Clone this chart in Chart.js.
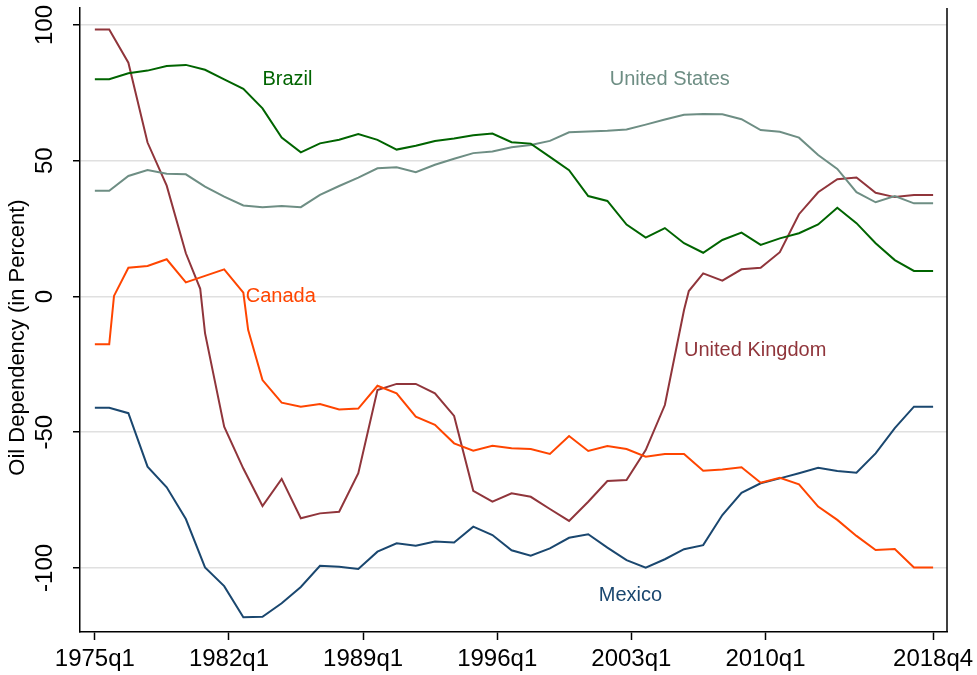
<!DOCTYPE html>
<html>
<head>
<meta charset="utf-8">
<script src="https://cdn.jsdelivr.net/npm/chart.js@4"></script>
<style>
  html, body { margin: 0; padding: 0; background: #fff; }
  #wrap { width: 977px; height: 675px; }
</style>
</head>
<body>
<div id="wrap"><canvas id="chart"></canvas></div>
<script>
// periods (quarters) at which the series have a point
const periods = ['1975q1', '1975q4', '1976q1', '1976q4', '1977q4', '1978q4', '1979q4', '1980q3', '1980q4',
    '1981q4', '1982q4', '1983q1', '1983q4', '1984q4', '1985q4', '1986q4', '1987q4', '1988q4', '1989q4',
    '1990q4', '1991q4', '1992q4', '1993q4', '1994q4', '1995q4', '1996q4', '1997q4', '1998q4', '1999q4',
    '2000q4', '2001q4', '2002q4', '2003q4', '2004q4', '2005q4', '2006q1', '2006q4', '2007q4', '2008q4',
    '2009q4', '2010q4', '2011q4', '2012q4', '2013q4', '2014q4', '2015q4', '2016q4', '2017q4', '2018q4'];

const brazil = [80, 80, null, 82.2, 83.2, 84.9, 85.3, null, 83.5,
    80.0, 76.5, null, 69.3, 58.5, 53.1, 56.4, 57.7, 59.8, 57.7,
    54.1, 55.5, 57.3, 58.2, 59.4, 60.0, 56.8, 56.3, 51.4, 46.5,
    37.0, 35.2, 26.5, 21.7, 25.2, 19.6, null, 16.1, 20.8, 23.5,
    19.0, 21.4, 23.3, 26.5, 32.7, 27.0, 19.6, 13.4, 9.4, 9.4];

const unitedStates = [38.9, 38.9, null, 44.4, 46.6, 45.2, 45.0, null, 40.5,
    36.8, 33.5, null, 32.9, 33.3, 32.9, 37.4, 40.7, 43.8, 47.2,
    47.6, 45.8, 48.5, 50.7, 52.8, 53.4, 55.0, 55.8, 57.3, 60.5,
    60.8, 61.0, 61.5, 63.3, 65.2, 66.9, null, 67.2, 67.1, 65.3,
    61.3, 60.7, 58.5, 52.1, 47.0, 38.4, 34.7, 37.0, 34.3, 34.3];

const unitedKingdom = [98.3, 98.3, null, 86.1, 56.7, 40.8, 15.9, 2.8, -13.5,
    -48.0, -63.4, null, -77.2, -67.2, -81.7, -79.9, -79.3, -65.1, -34.5,
    -32.2, -32.2, -35.7, -44.0, -71.6, -75.6, -72.5, -73.8, -78.3, -82.7,
    -75.6, -68.0, -67.6, -56.6, -40.0, -5.0, 2.0, 8.5, 5.8, 10.0,
    10.6, 16.3, 30.3, 38.4, 43.2, 43.8, 38.2, 36.6, 37.4, 37.4];

const canada = [-17.6, -17.6, 0.2, 10.6, 11.2, 13.7, 5.2, null, 7.6,
    10.0, 1.4, -12.3, -30.8, -39.1, -40.6, -39.6, -41.6, -41.3, -32.9,
    -35.7, -44.3, -47.3, -54.1, -56.8, -55.0, -55.9, -56.2, -58.0, -51.4,
    -56.9, -55.1, -56.2, -59.0, -58.0, -58.0, null, -64.2, -63.7, -62.9,
    -68.6, -66.8, -69.2, -77.4, -82.3, -88.2, -93.4, -93.0, -99.8, -99.8];

const mexico = [-41.0, -41.0, null, -43.0, -62.7, -70.3, -82.0, null, -99.8,
    -106.7, -118.2, null, -118.0, -113.0, -107.0, -99.2, -99.6, -100.4, -94.0,
    -90.9, -91.8, -90.3, -90.6, -84.8, -87.9, -93.5, -95.5, -92.8, -88.9,
    -87.6, -92.5, -97.1, -99.9, -96.8, -93.1, null, -91.6, -80.5, -72.3,
    -68.8, -67.0, -65.1, -63.1, -64.3, -64.9, -57.8, -48.5, -40.6, -40.6];

const xTickLabels = ['1975q1', '1982q1', '1989q1', '1996q1', '2003q1', '2010q1', '2018q4'];
const yTickValues = [-100, -50, 0, 50, 100];
const yTitle = 'Oil Dependency (in Percent)';

// quarter index counted from 1975q1
function qIndex(p) {
    return (parseInt(p.slice(0, 4)) - 1975) * 4 + parseInt(p.slice(5)) - 1;
}

function toPoints(values) {
    return periods.map(function (p, i) { return { x: qIndex(p), y: values[i] }; });
}

const FONT = "'Liberation Sans', Arial, sans-serif";

// series names written inside the plot
const seriesLabels = [
    { text: 'Brazil', x: 35, y: 80, color: '#006400' },
    { text: 'United States', x: 107.5, y: 80, color: '#6e8e84' },
    { text: 'Canada', x: 31.5, y: 0, color: '#ff4500' },
    { text: 'United Kingdom', x: 123, y: -20, color: '#90353b' },
    { text: 'Mexico', x: 105.2, y: -110.3, color: '#1a476f' }
];

const labelPlugin = {
    id: 'seriesLabels',
    afterDatasetsDraw: function (chart) {
        const ctx = chart.ctx;
        const xs = chart.scales.x, ys = chart.scales.y;
        ctx.save();
        ctx.font = '20px ' + FONT;
        ctx.textAlign = 'left';
        ctx.textBaseline = 'middle';
        seriesLabels.forEach(function (l) {
            ctx.fillStyle = l.color;
            ctx.fillText(l.text, xs.getPixelForValue(l.x), ys.getPixelForValue(l.y));
        });
        // right edge of the plot region
        const a = chart.chartArea;
        ctx.strokeStyle = '#000';
        ctx.lineWidth = 1.5;
        ctx.beginPath();
        ctx.moveTo(a.right, a.top);
        ctx.lineTo(a.right, a.bottom);
        ctx.stroke();
        // y axis title, centred on the whole graph height like Stata does
        ctx.translate(18, chart.height / 2);
        ctx.rotate(-Math.PI / 2);
        ctx.textAlign = 'center';
        ctx.fillStyle = '#000';
        ctx.font = '22px ' + FONT;
        ctx.fillText(yTitle, 0, 0);
        ctx.restore();
    }
};

function line(label, values, color) {
    return {
        label: label,
        data: toPoints(values),
        borderColor: color,
        backgroundColor: color,
        borderWidth: 2,
        pointRadius: 0,
        tension: 0,
        spanGaps: true
    };
}

new Chart(document.getElementById('chart'), {
    type: 'line',
    data: {
        datasets: [
            line('Brazil', brazil, '#006400'),
            line('United States', unitedStates, '#6e8e84'),
            line('Canada', canada, '#ff4500'),
            line('United Kingdom', unitedKingdom, '#90353b'),
            line('Mexico', mexico, '#1a476f')
        ]
    },
    options: {
        responsive: true,
        maintainAspectRatio: false,
        animation: false,
        layout: { padding: { top: 8, right: 30, left: 0, bottom: 0 } },
        plugins: {
            legend: { display: false },
            tooltip: { enabled: false }
        },
        scales: {
            x: {
                type: 'linear',
                min: -3.1,
                max: 177.9,
                afterBuildTicks: function (scale) {
                    scale.ticks = xTickLabels.map(function (l) { return { value: qIndex(l) }; });
                },
                afterFit: function (scale) {
                    scale.height = 43;
                    scale.paddingLeft = 0;
                    scale.paddingRight = 0;
                },
                ticks: {
                    autoSkip: false,
                    maxRotation: 0,
                    padding: 5,
                    color: '#000',
                    font: { family: FONT, size: 24 },
                    callback: function (v) {
                        const l = xTickLabels.find(function (t) { return qIndex(t) === v; });
                        return l || '';
                    }
                },
                grid: {
                    drawOnChartArea: false,
                    drawTicks: true,
                    tickLength: 8,
                    tickColor: '#000',
                    tickWidth: 1.5
                },
                border: { color: '#000', width: 1.5 }
            },
            y: {
                min: -123.6,
                max: 106.26,
                afterBuildTicks: function (scale) {
                    scale.ticks = yTickValues.map(function (v) { return { value: v }; });
                },
                afterFit: function (scale) {
                    scale.width = 80;
                    scale.paddingTop = 0;
                    scale.paddingBottom = 0;
                },
                ticks: {
                    minRotation: 90,
                    maxRotation: 90,
                    crossAlign: 'center',
                    padding: 4,
                    color: '#000',
                    font: { family: FONT, size: 24 }
                },
                grid: {
                    color: '#e0e0e0',
                    lineWidth: 1.5,
                    drawTicks: true,
                    tickLength: 7,
                    tickColor: '#000',
                    tickWidth: 1.5
                },
                border: { color: '#000', width: 1.5 }
            }
        }
    },
    plugins: [labelPlugin]
});
</script>
</body>
</html>
